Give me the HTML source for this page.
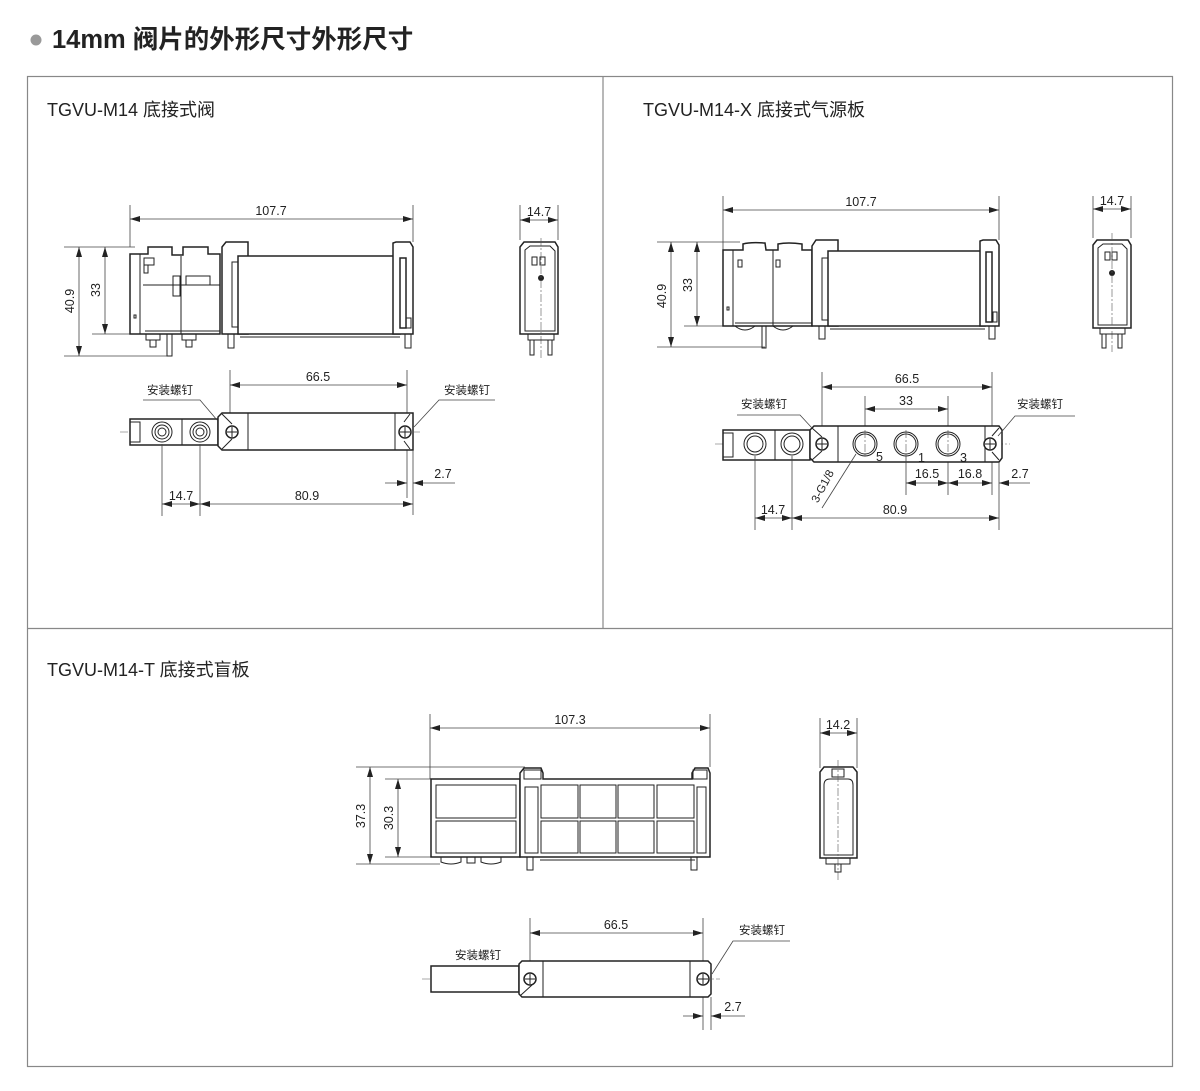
<!DOCTYPE html>
<html><head><meta charset="utf-8"><style>
html,body{margin:0;padding:0;background:#fff;}
svg{display:block;}
text{font-family:"Liberation Sans","Noto Sans CJK SC",sans-serif;fill:#222;}
.l{stroke:#222;stroke-width:1;fill:none;}
.b{stroke:#222;stroke-width:1.5;fill:#fff;}
.t{stroke:#444;stroke-width:0.8;fill:none;}
.c{stroke:#555;stroke-width:0.6;fill:none;stroke-dasharray:8 2 2 2;}
.d{font-size:12.5px;text-anchor:middle;}
.k{font-size:11.5px;text-anchor:middle;}
</style></head><body>
<svg width="1200" height="1091" viewBox="0 0 1200 1091" xmlns="http://www.w3.org/2000/svg">
<defs>
<marker id="a" viewBox="0 0 10 6" refX="10" refY="3" markerWidth="10" markerHeight="6" orient="auto-start-reverse" markerUnits="userSpaceOnUse"><path d="M0,0 L10,3 L0,6 z" fill="#222"/></marker>
</defs>
<circle cx="36" cy="40" r="5.5" fill="#999"/>
<text x="52" y="48" style="font-size:25.5px;font-weight:bold">14mm 阀片的外形尺寸外形尺寸</text>
<rect x="27.5" y="76.5" width="1145" height="990" fill="none" stroke="#888" stroke-width="1.2"/>
<line x1="603" y1="76" x2="603" y2="628" stroke="#888" stroke-width="1.2"/>
<line x1="27" y1="628.5" x2="1172" y2="628.5" stroke="#888" stroke-width="1.2"/>
<text x="47" y="116" style="font-size:18px">TGVU-M14 底接式阀</text>
<text x="643" y="116" style="font-size:18px">TGVU-M14-X 底接式气源板</text>
<text x="47" y="676" style="font-size:18px">TGVU-M14-T 底接式盲板</text>

<g>
<line class="t" x1="130" y1="205" x2="130" y2="247"/><line class="t" x1="413" y1="205" x2="413" y2="242"/>
<line class="t" x1="130" y1="219" x2="413" y2="219" marker-start="url(#a)" marker-end="url(#a)"/>
<text class="d" x="271" y="215">107.7</text>
<line class="t" x1="64" y1="247" x2="135" y2="247"/><line class="t" x1="64" y1="356" x2="170" y2="356"/>
<line class="t" x1="92" y1="334" x2="140" y2="334"/>
<line class="t" x1="79" y1="247" x2="79" y2="356" marker-start="url(#a)" marker-end="url(#a)"/>
<line class="t" x1="105" y1="247" x2="105" y2="334" marker-start="url(#a)" marker-end="url(#a)"/>
<text class="d" transform="translate(74,301) rotate(-90)">40.9</text>
<text class="d" transform="translate(100,290) rotate(-90)">33</text>
<path class="b" d="M130,254 H148 V247 H172 V255 H183 V247 H208 V254 H220 V334 H130 Z"/>
<line class="l" x1="140" y1="254" x2="140" y2="334"/>
<line class="l" x1="181" y1="256" x2="181" y2="334"/>
<line class="l" x1="143" y1="285" x2="220" y2="285"/>
<rect class="l" x="144" y="258" width="10" height="7"/><rect class="l" x="144" y="265" width="4" height="8"/>
<rect class="l" x="173" y="276" width="7" height="20"/><rect class="l" x="186" y="276" width="24" height="9"/>
<rect class="l" x="134" y="315" width="2" height="3"/>
<line class="l" x1="145" y1="331" x2="220" y2="331"/>
<path class="l" d="M146,334 v6 h14 v-6 M150,340 v7 h6 v-7 M167,334 v22 h5 v-22 M182,334 v6 h14 v-6 M186,340 v7 h6 v-7"/>
<path class="b" d="M222,247 L226,242 H248 V334 H222 Z"/>
<rect class="b" x="238" y="256" width="162" height="78"/>
<rect class="l" x="232" y="262" width="6" height="65"/>
<rect class="l" x="400" y="262" width="5" height="65"/>
<path class="b" d="M393,334 V243 L396,242 H410 L413,247 V334 Z"/>
<rect class="b" x="400" y="258" width="6" height="70"/>
<rect class="l" x="406" y="318" width="5" height="10"/>
<line class="l" x1="240" y1="337" x2="400" y2="337"/>
<path class="l" d="M228,334 v14 h6 v-14 M405,334 v14 h6 v-14"/>
</g>
<g>
<line class="t" x1="520" y1="205" x2="520" y2="240"/><line class="t" x1="558" y1="205" x2="558" y2="240"/>
<line class="t" x1="520" y1="220" x2="558" y2="220" marker-start="url(#a)" marker-end="url(#a)"/>
<text class="d" x="539" y="216">14.7</text>
<path class="b" d="M520,247 L524,242 H555 L558,247 V334 H520 Z"/>
<path class="l" d="M525,250 L530,246 H550 L555,251 V331 H525 Z"/>
<rect class="l" x="532" y="257" width="5" height="8"/><rect class="l" x="540" y="257" width="5" height="8"/>
<circle cx="541" cy="278" r="3" fill="#222"/>
<line class="c" x1="541" y1="238" x2="541" y2="360"/>
<path class="l" d="M528,334 v6 h26 v-6 M530,340 v15 h4 v-15 M548,340 v15 h4 v-15"/>
</g>
<g>
<line class="t" x1="230" y1="370" x2="230" y2="414"/><line class="t" x1="407" y1="370" x2="407" y2="498"/>
<line class="t" x1="230" y1="385" x2="407" y2="385" marker-start="url(#a)" marker-end="url(#a)"/>
<text class="d" x="318" y="381">66.5</text>
<line class="c" x1="120" y1="432" x2="420" y2="432"/>
<rect class="b" x="130" y="419" width="88" height="26"/>
<rect class="l" x="130" y="422" width="10" height="20"/>
<line class="l" x1="182" y1="419" x2="182" y2="445"/>
<circle class="l" cx="162" cy="432" r="10"/><circle class="l" cx="162" cy="432" r="7"/><circle class="l" cx="162" cy="432" r="4"/>
<circle class="l" cx="200" cy="432" r="10"/><circle class="l" cx="200" cy="432" r="7"/><circle class="l" cx="200" cy="432" r="4"/>
<path class="b" d="M222,413 H413 V450 H222 L218,446 V417 Z"/>
<line class="l" x1="248" y1="413" x2="248" y2="450"/><line class="l" x1="395" y1="413" x2="395" y2="450"/>
<path class="l" d="M222,414 L232,424 M222,449 L232,439 M410,414 L404,422 M410,449 L404,441"/>
<circle class="b" cx="232" cy="432" r="6"/><path class="l" d="M227,432 h10 M232,427 v10"/>
<circle class="b" cx="405" cy="432" r="6"/><path class="l" d="M400,432 h10 M405,427 v10"/>
<text class="k" x="170" y="394">安装螺钉</text>
<path class="t" d="M143,400 H200 L217,420"/>
<text class="k" x="467" y="394">安装螺钉</text>
<path class="t" d="M495,400 H439 L414,427"/>
<line class="t" x1="413" y1="450" x2="413" y2="515"/>
<line class="t" x1="385" y1="483" x2="407" y2="483" marker-end="url(#a)"/>
<line class="t" x1="455" y1="483" x2="413" y2="483" marker-end="url(#a)"/>
<text class="d" x="443" y="478">2.7</text>
<line class="t" x1="162" y1="444" x2="162" y2="516"/><line class="t" x1="200" y1="444" x2="200" y2="516"/>
<line class="t" x1="162" y1="504" x2="200" y2="504" marker-start="url(#a)" marker-end="url(#a)"/>
<line class="t" x1="200" y1="504" x2="413" y2="504" marker-start="url(#a)" marker-end="url(#a)"/>
<text class="d" x="181" y="500">14.7</text>
<text class="d" x="307" y="500">80.9</text>
</g>

<g>
<line class="t" x1="723" y1="196" x2="723" y2="250"/><line class="t" x1="999" y1="196" x2="999" y2="240"/>
<line class="t" x1="723" y1="210" x2="999" y2="210" marker-start="url(#a)" marker-end="url(#a)"/>
<text class="d" x="861" y="206">107.7</text>
<line class="t" x1="657" y1="242" x2="740" y2="242"/><line class="t" x1="657" y1="347" x2="765" y2="347"/>
<line class="t" x1="684" y1="326" x2="730" y2="326"/>
<line class="t" x1="671" y1="242" x2="671" y2="347" marker-start="url(#a)" marker-end="url(#a)"/>
<line class="t" x1="697" y1="242" x2="697" y2="326" marker-start="url(#a)" marker-end="url(#a)"/>
<text class="d" transform="translate(666,296) rotate(-90)">40.9</text>
<text class="d" transform="translate(692,285) rotate(-90)">33</text>
<path class="b" d="M723,250 H743 V244 Q750,242 765,243 L766,250 H778 V244 Q788,242 802,244 V250 H812 V326 H723 Z"/>
<line class="l" x1="733" y1="250" x2="733" y2="326"/><line class="l" x1="773" y1="250" x2="773" y2="326"/>
<rect class="l" x="738" y="260" width="4" height="7"/><rect class="l" x="776" y="260" width="4" height="7"/>
<rect class="l" x="727" y="307" width="2" height="3"/>
<line class="l" x1="735" y1="323" x2="812" y2="323"/>
<path class="l" d="M735,326 q10,8 20,0 M773,326 q10,8 20,0 M762,326 v22 h4 v-22"/>
<path class="b" d="M812,246 L816,240 H838 V326 H812 Z"/>
<rect class="b" x="828" y="251" width="157" height="75"/>
<rect class="l" x="822" y="258" width="6" height="62"/><rect class="l" x="985" y="258" width="5" height="62"/>
<path class="b" d="M980,326 V241 L983,240 H996 L999,245 V326 Z"/>
<rect class="b" x="986" y="252" width="6" height="70"/>
<rect class="l" x="993" y="312" width="4" height="10"/>
<line class="l" x1="830" y1="329" x2="985" y2="329"/>
<path class="l" d="M819,326 v13 h6 v-13 M989,326 v13 h6 v-13"/>
</g>
<g>
<line class="t" x1="1093" y1="196" x2="1093" y2="238"/><line class="t" x1="1131" y1="196" x2="1131" y2="238"/>
<line class="t" x1="1093" y1="209" x2="1131" y2="209" marker-start="url(#a)" marker-end="url(#a)"/>
<text class="d" x="1112" y="205">14.7</text>
<path class="b" d="M1093,245 L1097,240 H1128 L1131,245 V328 H1093 Z"/>
<path class="l" d="M1098,248 L1103,244 H1122 L1127,249 V325 H1098 Z"/>
<rect class="l" x="1105" y="252" width="5" height="8"/><rect class="l" x="1112" y="252" width="5" height="8"/>
<circle cx="1112" cy="273" r="3" fill="#222"/>
<line class="c" x1="1112" y1="233" x2="1112" y2="352"/>
<path class="l" d="M1100,328 v6 h25 v-6 M1102,334 v14 h4 v-14 M1118,334 v14 h4 v-14"/>
</g>
<g>
<line class="t" x1="822" y1="372" x2="822" y2="430"/><line class="t" x1="992" y1="372" x2="992" y2="495"/>
<line class="t" x1="822" y1="387" x2="992" y2="387" marker-start="url(#a)" marker-end="url(#a)"/>
<text class="d" x="907" y="383">66.5</text>
<line class="t" x1="865" y1="396" x2="865" y2="440"/><line class="t" x1="948" y1="396" x2="948" y2="495"/>
<line class="t" x1="865" y1="409" x2="948" y2="409" marker-start="url(#a)" marker-end="url(#a)"/>
<text class="d" x="906" y="405">33</text>
<line class="c" x1="715" y1="444" x2="1010" y2="444"/>
<rect class="b" x="723" y="430" width="87" height="30"/>
<rect class="l" x="723" y="433" width="10" height="24"/>
<line class="l" x1="775" y1="430" x2="775" y2="460"/>
<circle class="l" cx="755" cy="444" r="11"/><circle class="l" cx="755" cy="444" r="8"/>
<circle class="l" cx="792" cy="444" r="11"/><circle class="l" cx="792" cy="444" r="8"/>
<path class="b" d="M814,426 H999 L1002,430 V458 L999,462 H814 L810,458 V430 Z"/>
<line class="l" x1="838" y1="426" x2="838" y2="462"/><line class="l" x1="985" y1="426" x2="985" y2="462"/>
<path class="l" d="M812,428 L822,437 M812,460 L822,451 M999,428 L992,436 M999,460 L992,452"/>
<circle class="b" cx="822" cy="444" r="6"/><path class="l" d="M817,444 h10 M822,439 v10"/>
<circle class="b" cx="990" cy="444" r="6"/><path class="l" d="M985,444 h10 M990,439 v10"/>
<circle class="l" cx="865" cy="444" r="12"/><circle class="l" cx="865" cy="444" r="10"/>
<circle class="l" cx="906" cy="444" r="12"/><circle class="l" cx="906" cy="444" r="10"/>
<circle class="l" cx="948" cy="444" r="12"/><circle class="l" cx="948" cy="444" r="10"/>
<path class="c" d="M865,430 v28 M906,430 v28 M948,430 v28"/>
<text x="876" y="461" style="font-size:12.5px">5</text>
<text x="918" y="462" style="font-size:12.5px">1</text>
<text x="960" y="462" style="font-size:12.5px">3</text>
<line class="t" x1="856" y1="454" x2="822" y2="508"/>
<text class="k" transform="translate(826,488) rotate(-62)">3-G1/8</text>
<text class="k" x="764" y="408">安装螺钉</text>
<path class="t" d="M737,415 H800 L812,428"/>
<text class="k" x="1040" y="408">安装螺钉</text>
<path class="t" d="M1075,416 H1015 L998,436"/>
<line class="t" x1="906" y1="456" x2="906" y2="495"/>
<line class="t" x1="906" y1="483" x2="948" y2="483" marker-start="url(#a)" marker-end="url(#a)"/>
<line class="t" x1="948" y1="483" x2="992" y2="483" marker-start="url(#a)" marker-end="url(#a)"/>
<line class="t" x1="1030" y1="483" x2="999" y2="483" marker-end="url(#a)"/>
<text class="d" x="927" y="478">16.5</text><text class="d" x="970" y="478">16.8</text><text class="d" x="1020" y="478">2.7</text>
<line class="t" x1="755" y1="456" x2="755" y2="530"/><line class="t" x1="792" y1="456" x2="792" y2="530"/><line class="t" x1="999" y1="462" x2="999" y2="530"/>
<line class="t" x1="755" y1="518" x2="792" y2="518" marker-start="url(#a)" marker-end="url(#a)"/>
<line class="t" x1="792" y1="518" x2="999" y2="518" marker-start="url(#a)" marker-end="url(#a)"/>
<text class="d" x="773" y="514">14.7</text><text class="d" x="895" y="514">80.9</text>
</g>

<g>
<line class="t" x1="430" y1="714" x2="430" y2="779"/><line class="t" x1="710" y1="714" x2="710" y2="767"/>
<line class="t" x1="430" y1="728" x2="710" y2="728" marker-start="url(#a)" marker-end="url(#a)"/>
<text class="d" x="570" y="724">107.3</text>
<line class="t" x1="356" y1="767" x2="525" y2="767"/><line class="t" x1="356" y1="864" x2="440" y2="864"/>
<line class="t" x1="385" y1="779" x2="432" y2="779"/><line class="t" x1="385" y1="857" x2="432" y2="857"/>
<line class="t" x1="370" y1="767" x2="370" y2="864" marker-start="url(#a)" marker-end="url(#a)"/>
<line class="t" x1="398" y1="779" x2="398" y2="857" marker-start="url(#a)" marker-end="url(#a)"/>
<text class="d" transform="translate(365,816) rotate(-90)">37.3</text>
<text class="d" transform="translate(393,818) rotate(-90)">30.3</text>
<rect class="b" x="431" y="779" width="89" height="78"/>
<rect class="l" x="436" y="785" width="80" height="33"/><rect class="l" x="436" y="821" width="80" height="32"/>
<path class="b" d="M520,773 L524,768 H541 L543,773 V779 H692 V773 L695,768 H708 L710,773 V857 H520 Z"/>
<rect class="l" x="524" y="770" width="17" height="9"/><rect class="l" x="693" y="770" width="14" height="9"/>
<rect class="l" x="525" y="787" width="13" height="66"/><rect class="l" x="697" y="787" width="9" height="66"/>
<rect class="l" x="541" y="785" width="37" height="33"/><rect class="l" x="580" y="785" width="36" height="33"/>
<rect class="l" x="618" y="785" width="36" height="33"/><rect class="l" x="657" y="785" width="37" height="33"/>
<rect class="l" x="541" y="821" width="37" height="32"/><rect class="l" x="580" y="821" width="36" height="32"/>
<rect class="l" x="618" y="821" width="36" height="32"/><rect class="l" x="657" y="821" width="37" height="32"/>
<line class="l" x1="540" y1="860" x2="695" y2="860"/>
<path class="l" d="M441,857 v5 q10,4 20,0 v-5 M467,857 v6 h8 v-6 M481,857 v5 q10,4 20,0 v-5 M527,857 v13 h6 v-13 M691,857 v13 h6 v-13"/>
</g>
<g>
<line class="t" x1="820" y1="718" x2="820" y2="768"/><line class="t" x1="857" y1="718" x2="857" y2="768"/>
<line class="t" x1="820" y1="733" x2="857" y2="733" marker-start="url(#a)" marker-end="url(#a)"/>
<text class="d" x="838" y="729">14.2</text>
<path class="b" d="M820,772 L824,767 H853 L857,772 V858 H820 Z"/>
<path class="l" d="M824,785 Q824,779 830,779 H848 Q853,779 853,785 V855 H824 Z"/>
<rect class="l" x="832" y="769" width="12" height="8"/>
<line class="c" x1="838" y1="760" x2="838" y2="882"/>
<path class="l" d="M826,858 v6 h24 v-6 M835,864 v8 h6 v-8"/>
</g>
<g>
<line class="t" x1="530" y1="918" x2="530" y2="970"/><line class="t" x1="703" y1="918" x2="703" y2="1030"/>
<line class="t" x1="530" y1="933" x2="703" y2="933" marker-start="url(#a)" marker-end="url(#a)"/>
<text class="d" x="616" y="929">66.5</text>
<line class="c" x1="422" y1="979" x2="720" y2="979"/>
<rect class="b" x="431" y="966" width="88" height="26"/>
<path class="b" d="M522,961 H708 L711,964 V994 L708,997 H522 L519,994 V964 Z"/>
<line class="l" x1="543" y1="961" x2="543" y2="997"/><line class="l" x1="690" y1="961" x2="690" y2="997"/>
<line class="l" x1="521" y1="995" x2="532" y2="985"/>
<circle class="b" cx="530" cy="979" r="6"/><path class="l" d="M525,979 h10 M530,974 v10"/>
<circle class="b" cx="703" cy="979" r="6"/><path class="l" d="M698,979 h10 M703,974 v10"/>
<text class="k" x="478" y="959">安装螺钉</text>
<text class="k" x="762" y="934">安装螺钉</text>
<path class="t" d="M790,941 H733 L712,974"/>
<line class="t" x1="711" y1="997" x2="711" y2="1030"/>
<line class="t" x1="683" y1="1016" x2="703" y2="1016" marker-end="url(#a)"/>
<line class="t" x1="745" y1="1016" x2="711" y2="1016" marker-end="url(#a)"/>
<text class="d" x="733" y="1011">2.7</text>
</g>
</svg>
</body></html>
